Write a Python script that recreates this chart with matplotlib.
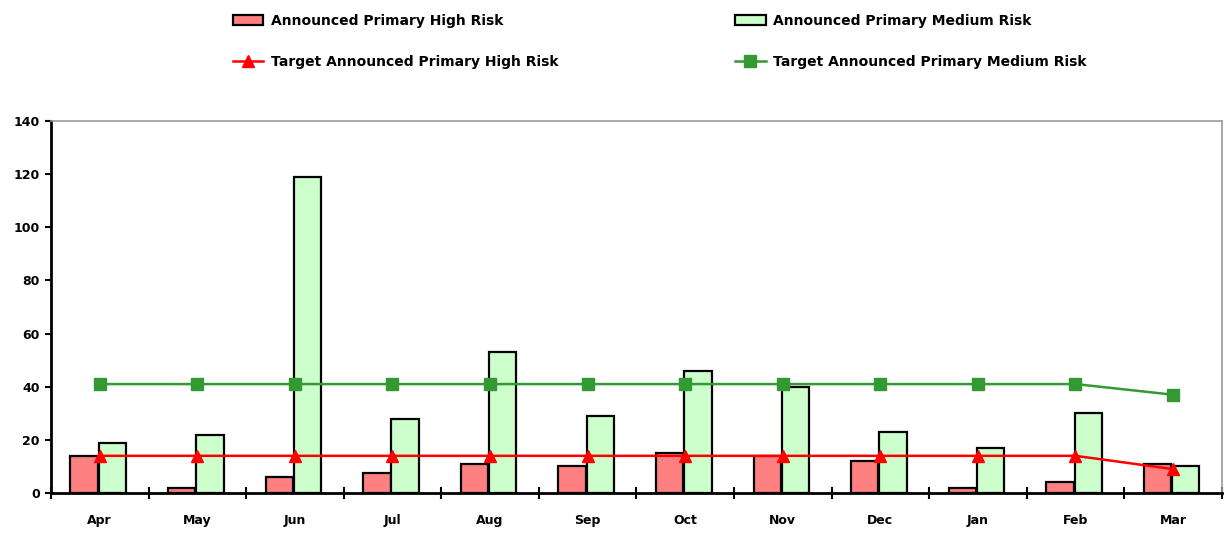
import numpy as np
import matplotlib
matplotlib.use("Agg")
import matplotlib.pyplot as plt
from matplotlib.ticker import FixedLocator, NullFormatter

months = ["Apr", "May", "Jun", "Jul", "Aug", "Sep", "Oct", "Nov", "Dec", "Jan", "Feb", "Mar"]
high_risk = [14, 2, 6, 7.5, 11, 10, 15, 14, 12, 2, 4, 11]
medium_risk = [19, 22, 119, 28, 53, 29, 46, 40, 23, 17, 30, 10]
target_high = [14, 14, 14, 14, 14, 14, 14, 14, 14, 14, 14, 9]
target_medium = [41, 41, 41, 41, 41, 41, 41, 41, 41, 41, 41, 37]

plt.rcParams["font.family"] = ["DejaVu Sans"]
plt.rcParams["font.weight"] = "bold"

fig = plt.figure(figsize=(12.28, 5.33), dpi=100)
ax = fig.add_axes([0.0415, 0.075, 0.9535, 0.698])

x = np.arange(len(months))
w = 0.28
b1 = ax.bar(x - w / 2 - 0.02, high_risk, width=w, color="#FF8080", edgecolor="black",
            linewidth=1.6, label="Announced Primary High Risk", zorder=2)
b2 = ax.bar(x + w / 2 - 0.01, medium_risk, width=w, color="#CCFFCC", edgecolor="black",
            linewidth=1.6, label="Announced Primary Medium Risk", zorder=2)
l1, = ax.plot(x, target_high, color="#FF0000", linewidth=1.8, marker="^",
              markersize=8, label="Target Announced Primary High Risk", zorder=3)
l2, = ax.plot(x, target_medium, color="#339933", linewidth=1.8, marker="s",
              markersize=8, label="Target Announced Primary Medium Risk", zorder=3)

ax.set_xlim(-0.5, len(months) - 0.5)
ax.set_ylim(0, 140)
ax.set_yticks(np.arange(0, 141, 20))
ax.set_xticks(x)
ax.set_xticklabels(months)
ax.xaxis.set_minor_locator(FixedLocator(np.arange(-0.5, len(months), 1.0)))
ax.xaxis.set_minor_formatter(NullFormatter())
ax.tick_params(axis="x", which="major", length=0, pad=15, labelsize=9)
ax.tick_params(axis="x", which="minor", direction="inout", length=8, width=1.5)
ax.tick_params(axis="y", which="major", direction="out", length=4, width=1.5,
               labelsize=9, pad=4)

for side in ("left", "bottom"):
    ax.spines[side].set_linewidth(2)
    ax.spines[side].set_color("black")
for side in ("top", "right"):
    ax.spines[side].set_linewidth(1.2)
    ax.spines[side].set_color("#999999")

leg_kw = dict(frameon=False, fontsize=10, labelspacing=2.0, handlelength=2.2,
              handletextpad=0.55, borderaxespad=0, loc="upper left")
leg1 = fig.legend([b1, l1], [b1.get_label(), l1.get_label()],
                  bbox_to_anchor=(0.185, 0.985), **leg_kw)
leg2 = fig.legend([b2, l2], [b2.get_label(), l2.get_label()],
                  bbox_to_anchor=(0.594, 0.985), **leg_kw)

fig.savefig("out.png", dpi=100)
